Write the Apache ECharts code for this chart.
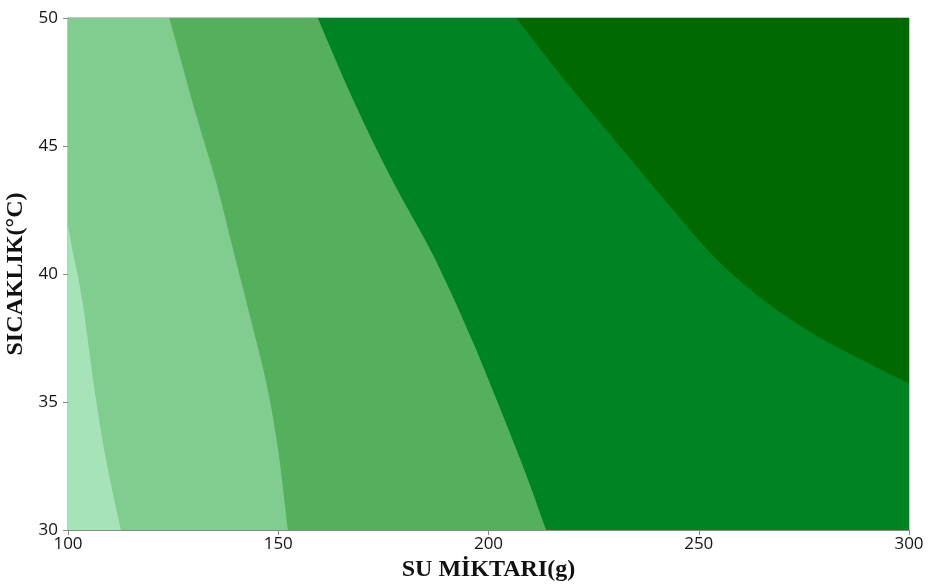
<!DOCTYPE html>
<html>
<head>
<meta charset="utf-8">
<script src="https://cdn.jsdelivr.net/npm/echarts@6/dist/echarts.min.js"></script>
<style>
  html, body { margin: 0; padding: 0; background: #ffffff; }
  #chart { width: 929px; height: 585px; }
</style>
</head>
<body>
<div id="chart"></div>
<script>
// Axis ranges and ticks
const waterTicks = [100, 150, 200, 250, 300];
const tempTicks = [30, 35, 40, 45, 50];

// Contour boundaries as [water (g), temperature (°C)], listed top-left to bottom-right
const edge1 = [[100, 41.9], [101.1, 40.9], [103.4, 38.97], [106.7, 35.06], [109.4, 32.45], [112.6, 30]];
const edge2 = [[124.1, 50], [130.5, 46.2], [135.2, 43.6], [139.2, 41.0], [143.2, 38.4], [147.1, 35.8], [149.9, 33.2], [152.3, 30]];
const edge3 = [[159.4, 50], [167.7, 46.85], [176.5, 43.86], [185.2, 41.25], [189.9, 39.69], [196.3, 37.34], [203.4, 34.48], [209.0, 32.14], [213.7, 30]];
const edge4 = [[206.6, 50], [218.5, 47.5], [230.4, 45.16], [242.3, 42.81], [254.1, 40.6], [266.0, 38.91], [277.9, 37.6], [289.8, 36.56], [300, 35.72]];

// Band colours, darkest (top right) to lightest (bottom left)
const bandColors = ['#006a00', '#008322', '#55b05d', '#81cc8f', '#a6e3b8'];

const xMin = waterTicks[0], xMax = waterTicks[waterTicks.length - 1];
const yMin = tempTicks[0], yMax = tempTicks[tempTicks.length - 1];

// Each band: the boundary curve plus the plot corners that close it on the left/bottom side
function leftCorners(edge) {
  const first = edge[0], last = edge[edge.length - 1];
  const c = [];
  if (last[0] >= xMax && last[1] > yMin) c.push([xMax, yMin]);
  c.push([xMin, yMin]);
  if (first[1] >= yMax && first[0] > xMin) c.push([xMin, yMax]);
  return c;
}

const bands = [
  { curve: [[xMin, yMax], [xMax, yMax]], corners: [[xMax, yMin], [xMin, yMin]] },
  { curve: edge4, corners: leftCorners(edge4) },
  { curve: edge3, corners: leftCorners(edge3) },
  { curve: edge2, corners: leftCorners(edge2) },
  { curve: edge1, corners: leftCorners(edge1) }
];

// Smooth path through pixel points (Catmull-Rom as cubic Bezier segments)
function smoothPath(pts) {
  let d = 'M' + pts[0][0] + ' ' + pts[0][1];
  for (let i = 0; i < pts.length - 1; i++) {
    const p0 = pts[Math.max(0, i - 1)], p1 = pts[i], p2 = pts[i + 1], p3 = pts[Math.min(pts.length - 1, i + 2)];
    const c1 = [p1[0] + (p2[0] - p0[0]) / 6, p1[1] + (p2[1] - p0[1]) / 6];
    const c2 = [p2[0] - (p3[0] - p1[0]) / 6, p2[1] - (p3[1] - p1[1]) / 6];
    d += ' C' + c1[0] + ' ' + c1[1] + ' ' + c2[0] + ' ' + c2[1] + ' ' + p2[0] + ' ' + p2[1];
  }
  return d;
}

const chart = echarts.init(document.getElementById('chart'), null, { renderer: 'canvas' });

const tickFont = { fontFamily: 'Open Sans', fontSize: 17, color: '#151515' };
const titleFont = { fontFamily: 'Liberation Serif', fontWeight: 'bold', fontSize: 24, color: '#111111' };

chart.setOption({
  backgroundColor: '#ffffff',
  animation: false,
  grid: {
    left: 68, right: 20, top: 18, bottom: 55,
    containLabel: false, outerBoundsMode: 'none',
    show: true, borderColor: '#8a8a8a', borderWidth: 1, backgroundColor: 'transparent'
  },
  xAxis: {
    type: 'value', min: xMin, max: xMax, interval: 50,
    name: 'SU MİKTARI(g)', nameLocation: 'middle', nameGap: 15,
    nameTextStyle: titleFont,
    axisLine: { show: true, lineStyle: { color: '#8a8a8a', width: 1 } },
    axisTick: { show: true, length: 5, lineStyle: { color: '#8a8a8a' } },
    axisLabel: Object.assign({ margin: 6 }, tickFont),
    splitLine: { show: false }
  },
  yAxis: {
    type: 'value', min: yMin, max: yMax, interval: 5,
    name: 'SICAKLIK(°C)', nameLocation: 'middle', nameGap: 34, nameRotate: 90,
    nameTextStyle: titleFont,
    axisLine: { show: true, lineStyle: { color: '#8a8a8a', width: 1 } },
    axisTick: { show: true, length: 5, lineStyle: { color: '#8a8a8a' } },
    axisLabel: Object.assign({ margin: 10 }, tickFont),
    splitLine: { show: false }
  },
  series: [{
    type: 'custom',
    clip: true,
    silent: true,
    data: bands.map((b, i) => i),
    renderItem: function (params, api) {
      const band = bands[params.dataIndex];
      const curvePx = band.curve.map(p => api.coord(p));
      let d = smoothPath(curvePx);
      band.corners.forEach(p => { const q = api.coord(p); d += ' L' + q[0] + ' ' + q[1]; });
      d += ' Z';
      return {
        type: 'path',
        shape: { pathData: d },
        style: { fill: bandColors[params.dataIndex], stroke: null }
      };
    }
  }]
});
</script>
</body>
</html>
